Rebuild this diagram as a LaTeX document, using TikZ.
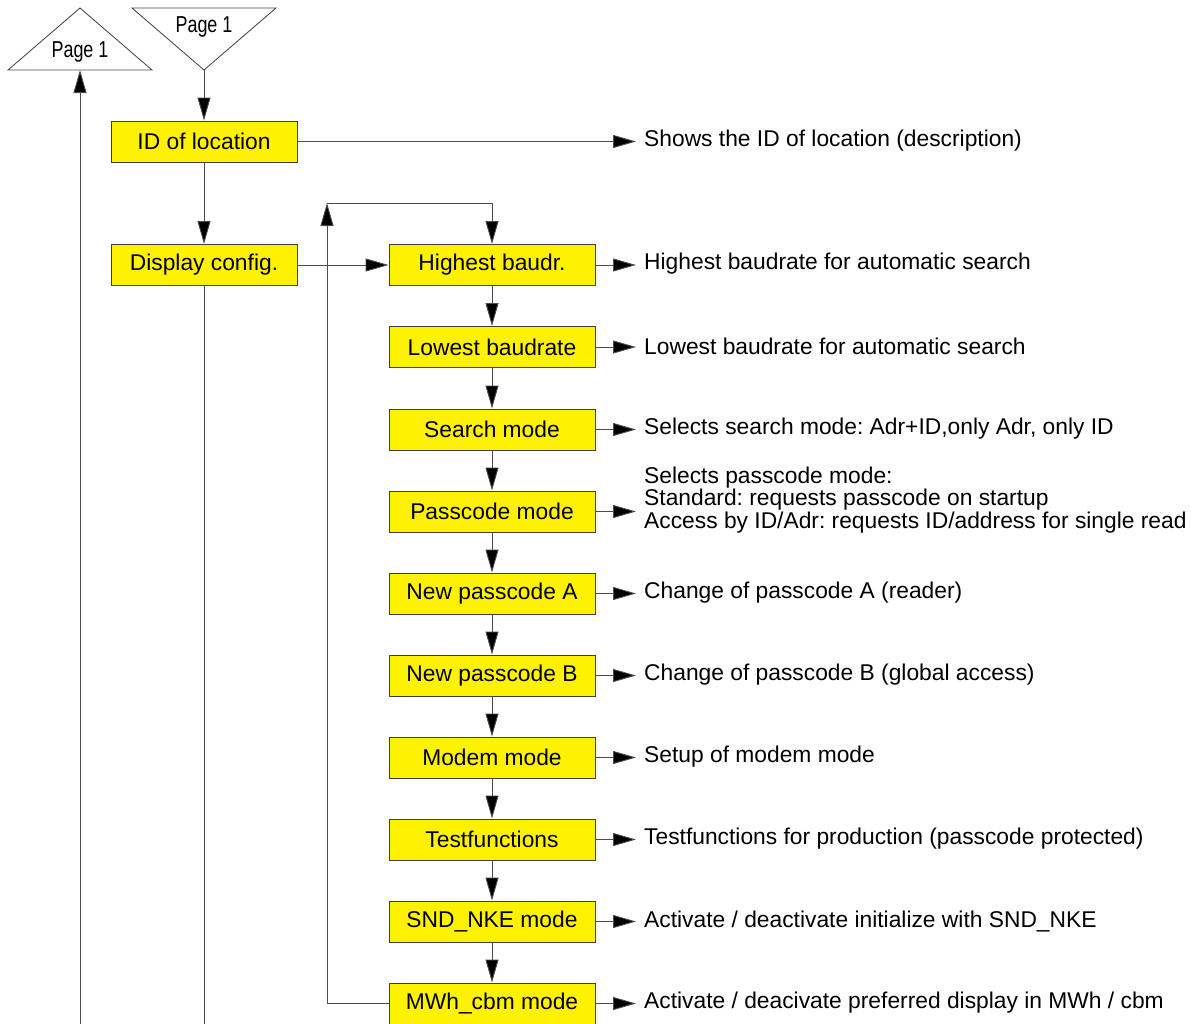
\documentclass[tikz,border=0pt]{standalone}
\usepackage{fontspec}
\setmainfont{Liberation Sans}
\usetikzlibrary{arrows.meta}
\begin{document}
\frenchspacing
\begin{tikzpicture}[x=1pt,y=-1pt,
  line/.style={draw=black!70, line width=0.9pt},
  arr/.style={line, -{Triangle[length=23pt,width=13pt,fill=black]}},
  box/.style={draw=black!75, line width=0.9pt, fill=yellow, minimum width=206pt, minimum height=41pt, inner sep=0pt, font=\fontsize{22.8}{24}\selectfont},
  lbl/.style={anchor=west, inner sep=0pt, font=\fontsize{22.8}{24}\selectfont},
  pg/.style={inner sep=0pt, font=\fontsize{23}{25}\selectfont}]
\useasboundingbox (0,0) rectangle (1191,1023);
% triangles
\draw[line] (80,8) -- (152,70) -- (8,70) -- cycle;
\node[pg] (p1) at (80,52) {\scalebox{0.78}[1]{Page 1}};
\draw[line] (132,8) -- (276,8) -- (204,70) -- cycle;
\node[pg] (p2) at (204,27) {\scalebox{0.78}[1]{Page 1}};
\coordinate (t1) at (80,70);
\coordinate (t2) at (204,70);
\coordinate (b1) at (80,1025);
\coordinate (b2) at (204,1025);
% left boxes
\node[box, minimum width=186pt] (id) at (204,141.5) {ID of location};
\node[box, minimum width=186pt] (dc) at (204,265) {Display config.};
% column
\node[box] (n1) at (492,265) {Highest baudr.};
\node[box] (n2) at (492,347) {Lowest baudrate};
\node[box] (n3) at (492,429.5) {Search mode};
\node[box] (n4) at (492,511.5) {Passcode mode};
\node[box] (n5) at (492,593.5) {New passcode A};
\node[box] (n6) at (492,675.5) {New passcode B};
\node[box] (n7) at (492,757.5) {Modem mode};
\node[box] (n8) at (492,839.5) {Testfunctions};
\node[box] (n9) at (492,921.5) {SND\_NKE mode};
\node[box] (n10) at (492,1003.5) {MWh\_cbm mode};
% labels
\node[lbl] (l0) at (644,141) {Shows the ID of location (description)};
\node[lbl] (l1) at (644,264) {Highest baudrate for automatic search};
\node[lbl] (l2) at (644,346) {Lowest baudrate for automatic search};
\node[lbl] (l3) at (644,429) {Selects search mode: Adr+ID,only Adr, only ID};
\node[lbl, align=left, font=\fontsize{22.8}{21}\selectfont] (l4) at (644,500) {Selects passcode mode:\\Standard: requests passcode on startup\\Access by ID/Adr: requests ID/address for single read};
\node[lbl] (l5) at (644,593) {Change of passcode A (reader)};
\node[lbl] (l6) at (644,675) {Change of passcode B (global access)};
\node[lbl] (l7) at (644,757) {Setup of modem mode};
\node[lbl] (l8) at (644,839) {Testfunctions for production (passcode protected)};
\node[lbl] (l9) at (644,921) {Activate / deactivate initialize with SND\_NKE};
\node[lbl] (l10) at (644,1003) {Activate / deacivate preferred display in MWh / cbm};
% connectors
\draw[arr] (b1) -- (t1);
\draw[arr] (t2) -- (id.north);
\draw[arr] (id.south) -- (dc.north);
\draw[line] (dc.south) -- (b2);
\draw[arr] (id.east) -- ([xshift=-8pt]l0.west |- id.east);
\draw[arr] (dc.east) -- (n1.west);
\coordinate (lc) at (327,203);
\draw[arr] (n10.west) -| (lc);
\draw[arr] (lc) -| (n1.north);
\foreach \a/\b in {n1/n2,n2/n3,n3/n4,n4/n5,n5/n6,n6/n7,n7/n8,n8/n9,n9/n10}{
  \draw[arr] (\a.south) -- (\b.north);}
\foreach \n/\l in {n1/l1,n2/l2,n3/l3,n4/l4,n5/l5,n6/l6,n7/l7,n8/l8,n9/l9,n10/l10}{
  \draw[arr] (\n.east) -- ([xshift=-8pt]\l.west |- \n.east);}
\end{tikzpicture}
\end{document}
